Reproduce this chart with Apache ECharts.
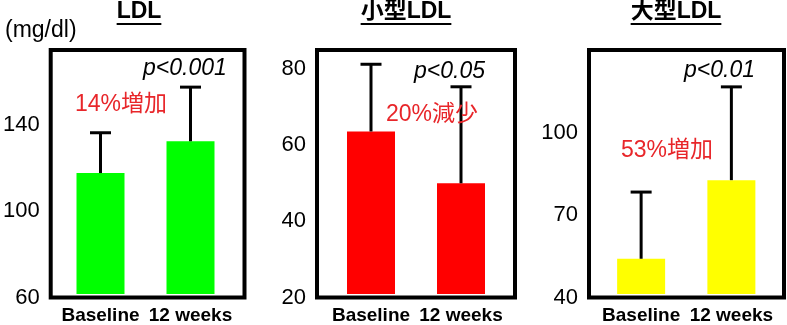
<!DOCTYPE html>
<html>
<head>
<meta charset="utf-8">
<script src="https://cdn.jsdelivr.net/npm/echarts@6/dist/echarts.min.js"></script>
<style>
  html, body { margin: 0; padding: 0; background: #fff; }
  #chart { width: 787px; height: 325px; }
</style>
</head>
<body>
<div id="chart"></div>
<script>
// Categories and panel texts
const categories = ['Baseline', '12 weeks'];
const panelTitles = ['LDL', '小型LDL', '大型LDL'];
const pValues = ['p<0.001', 'p<0.05', 'p<0.01'];
const changeNotes = ['14%増加', '20%減少', '53%増加'];
const unitLabel = '(mg/dl)';

// Mean values and upper ends of the error bars (mg/dl)
const ldlMean = [117, 132];
const ldlUpper = [136, 157.5];
const smallLdlMean = [63.3, 49.5];
const smallLdlUpper = [81.2, 75.2];
const largeLdlMean = [53, 82];
const largeLdlUpper = [77.6, 116.4];

// Y-axis ranges and tick steps
const yMin = [60, 20, 40];
const yMax = [175, 85, 130];
const yStep = [40, 20, 30];

const means = [ldlMean, smallLdlMean, largeLdlMean];
const uppers = [ldlUpper, smallLdlUpper, largeLdlUpper];
const barColors = ['#00ff00', '#ff0000', '#ffff00'];

const FONT = '"Liberation Sans", Arial, "Noto Sans CJK JP", sans-serif';

// Frame boxes and plotting areas for the three panels
const layout = [
  { box: { left: 47,  top: 50, width: 197.5, height: 247.5 }, plotLeft: 55.5, plotWidth: 180 },
  { box: { left: 317, top: 50, width: 198,   height: 247.5 }, plotLeft: 326,  plotWidth: 180 },
  { box: { left: 589, top: 50, width: 195,   height: 247.5 }, plotLeft: 596,  plotWidth: 180.5 }
];
const titleCenters = [139, 406, 676];
const pPos = [[143, 69], [414, 72], [684, 71]];
const notePos = [[75, 105], [386, 115], [621, 151]];

const grid = [], xAxis = [], yAxis = [], series = [];

layout.forEach((p, i) => {
  // frame (drawn above the bars)
  grid.push({
    left: p.box.left, top: p.box.top, width: p.box.width, height: p.box.height,
    show: true, borderColor: '#000', borderWidth: 4, backgroundColor: 'transparent', z: 5
  });
  // plotting area
  grid.push({
    left: p.plotLeft, top: p.box.top, width: p.plotWidth, height: p.box.height, show: false
  });

  xAxis.push({ gridIndex: 2 * i, type: 'category', data: categories, show: false });
  xAxis.push({
    gridIndex: 2 * i + 1, type: 'category', data: categories,
    axisLine: { show: false }, axisTick: { show: false },
    axisLabel: { fontFamily: FONT, fontSize: 19, fontWeight: 'bold', color: '#000', margin: 12, interval: 0 }
  });

  yAxis.push({
    gridIndex: 2 * i, type: 'value', min: yMin[i], max: yMax[i], interval: yStep[i],
    axisLine: { show: false }, axisTick: { show: false }, splitLine: { show: false },
    axisLabel: { fontFamily: FONT, fontSize: 22, color: '#000', margin: 11, showMaxLabel: false }
  });
  yAxis.push({
    gridIndex: 2 * i + 1, type: 'value', min: yMin[i], max: yMax[i], interval: yStep[i], show: false
  });

  series.push({
    type: 'bar', xAxisIndex: 2 * i + 1, yAxisIndex: 2 * i + 1,
    data: means[i], barWidth: 48, itemStyle: { color: barColors[i] }, z: 2, silent: true
  });
  series.push({
    type: 'custom', xAxisIndex: 2 * i + 1, yAxisIndex: 2 * i + 1, z: 3, silent: true,
    data: means[i].map((m, k) => [k, m, uppers[i][k]]),
    renderItem: function (params, api) {
      const base = api.coord([api.value(0), api.value(1)]);
      const top = api.coord([api.value(0), api.value(2)]);
      const st = { stroke: '#000', lineWidth: 3 };
      return {
        type: 'group',
        children: [
          { type: 'line', shape: { x1: base[0], y1: base[1], x2: base[0], y2: top[1] }, style: st },
          { type: 'line', shape: { x1: base[0] - 10.5, y1: top[1], x2: base[0] + 10.5, y2: top[1] }, style: st }
        ]
      };
    }
  });
});

// Width of a string, used for the title underlines
const measureCtx = document.createElement('canvas').getContext('2d');
function textWidth(str, font) {
  measureCtx.font = font;
  return measureCtx.measureText(str).width;
}

const graphic = [];
const titleFont = 'bold 23px ' + FONT;
panelTitles.forEach((t, i) => {
  const w = textWidth(t, titleFont);
  graphic.push({
    type: 'text', x: titleCenters[i], y: 12, z: 10,
    style: { text: t, font: titleFont, fill: '#000', align: 'center', verticalAlign: 'middle' }
  });
  graphic.push({
    type: 'rect', z: 10,
    shape: { x: titleCenters[i] - w / 2, y: 23, width: w, height: 2 },
    style: { fill: '#000' }
  });
  graphic.push({
    type: 'text', x: pPos[i][0], y: pPos[i][1], z: 10,
    style: { text: pValues[i], font: 'italic 23px ' + FONT, fill: '#000', align: 'left', verticalAlign: 'middle' }
  });
  graphic.push({
    type: 'text', x: notePos[i][0], y: notePos[i][1], z: 10,
    style: { text: changeNotes[i], font: '23px ' + FONT, fill: '#e8262a', align: 'left', verticalAlign: 'middle' }
  });
});
graphic.push({
  type: 'text', x: 5, y: 31, z: 10,
  style: { text: unitLabel, font: '23px ' + FONT, fill: '#000', align: 'left', verticalAlign: 'middle' }
});

const chart = echarts.init(document.getElementById('chart'), null, { renderer: 'canvas' });
chart.setOption({
  animation: false,
  backgroundColor: '#fff',
  grid, xAxis, yAxis, series, graphic
});
</script>
</body>
</html>
